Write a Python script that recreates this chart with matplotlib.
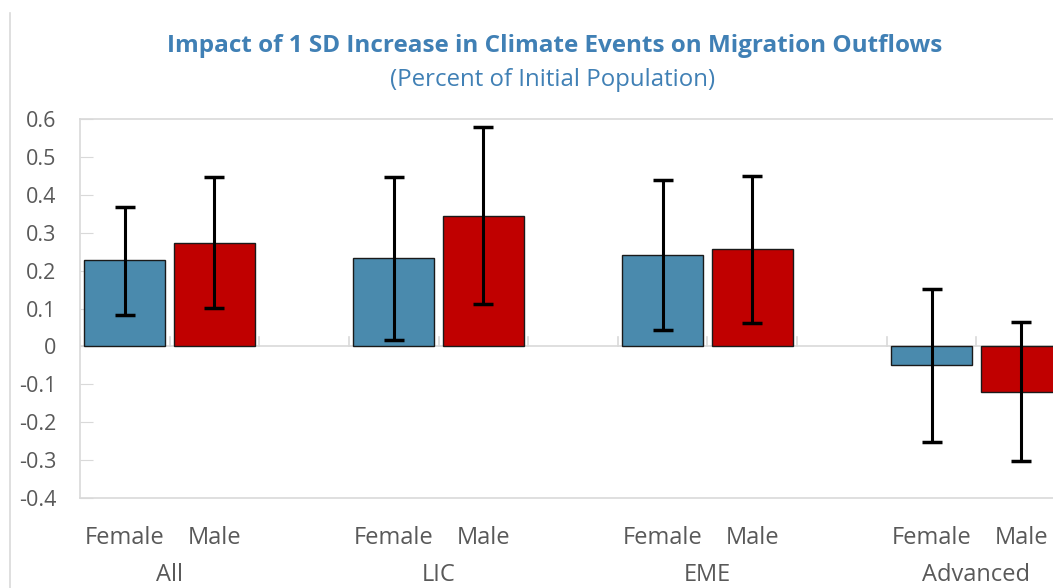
import matplotlib.pyplot as plt
from matplotlib.transforms import blended_transform_factory
from matplotlib.lines import Line2D

groups = ['All', 'LIC', 'EME', 'Advanced']
sexes = ['Female', 'Male']
female = [0.228, 0.232, 0.240, -0.050]
male = [0.274, 0.345, 0.256, -0.119]
female_lo = [0.084, 0.016, 0.044, -0.252]
female_hi = [0.369, 0.446, 0.439, 0.151]
male_lo = [0.102, 0.113, 0.062, -0.303]
male_hi = [0.446, 0.578, 0.450, 0.065]

blue = '#4a8aad'
red = '#c00000'
grey_txt = '#595959'
title_col = '#4080b5'
line_col = '#d9d9d9'

plt.rcParams['font.family'] = ['Open Sans', 'DejaVu Sans']

fig = plt.figure(figsize=(10.53, 5.88), dpi=100)
W, H = 1053, 588
# plot area spans px 80..1066 horizontally (clipped at the right), 119..498 vertically
ax = fig.add_axes([80 / W, 1 - 498 / H, 986 / W, (498 - 119) / H])

xf = [3 * i for i in range(len(groups))]
xm = [3 * i + 1 for i in range(len(groups))]

ax.bar(xf, female, width=0.9, color=blue, edgecolor='#1a1a1a', linewidth=1, zorder=3)
ax.bar(xm, male, width=0.9, color=red, edgecolor='#1a1a1a', linewidth=1, zorder=3)

ef = [[f - lo for f, lo in zip(female, female_lo)], [hi - f for f, hi in zip(female, female_hi)]]
em = [[m - lo for m, lo in zip(male, male_lo)], [hi - m for m, hi in zip(male, male_hi)]]
ax.errorbar(xf, female, yerr=ef, fmt='none', ecolor='black', elinewidth=2.2,
            capsize=7, capthick=2.5, zorder=4)
ax.errorbar(xm, male, yerr=em, fmt='none', ecolor='black', elinewidth=2.2,
            capsize=7, capthick=2.5, zorder=4)

ax.set_xlim(-0.5, 10.5)
ax.set_ylim(-0.4, 0.6)
ax.set_yticks([-0.4, -0.3, -0.2, -0.1, 0, 0.1, 0.2, 0.3, 0.4, 0.5, 0.6])
ax.set_yticklabels(['-0.4', '-0.3', '-0.2', '-0.1', '0', '0.1', '0.2', '0.3', '0.4', '0.5', '0.6'])
ax.tick_params(axis='y', direction='in', length=9, color=line_col, labelsize=15.5,
               labelcolor=grey_txt, pad=17)

# category axis at zero with slot-boundary tick marks
ax.tick_params(axis='x', bottom=False, labelbottom=False)
ax.axhline(0, color=line_col, lw=1.2, zorder=2)
for i in range(-1, 11):
    ax.plot([i + 0.5, i + 0.5], [0, 0.025], color=line_col, lw=1.2, zorder=2)

for s in ax.spines.values():
    s.set_color(line_col)
    s.set_linewidth(1.2)

trans = blended_transform_factory(ax.transData, fig.transFigure)
for i, g in enumerate(groups):
    ax.text(xf[i], 1 - 538 / H, sexes[0], transform=trans, ha='center', va='center',
            fontsize=17, color=grey_txt)
    ax.text(xm[i], 1 - 538 / H, sexes[1], transform=trans, ha='center', va='center',
            fontsize=17, color=grey_txt)
    ax.text(xf[i] + 0.5, 1 - 575 / H, g, transform=trans, ha='center', va='center',
            fontsize=17, color=grey_txt)

fig.text(555 / W, 1 - 46 / H, 'Impact of 1 SD Increase in Climate Events on Migration Outflows',
         ha='center', va='center', fontsize=17.5, fontweight='bold', color=title_col)
fig.text(553 / W, 1 - 80 / H, '(Percent of Initial Population)',
         ha='center', va='center', fontsize=17.3, color=title_col)

fig.add_artist(Line2D([9.5 / W, 9.5 / W], [0, 1 - 13 / H], transform=fig.transFigure,
                      color=line_col, lw=1.2))

fig.savefig('out.png', dpi=100)
